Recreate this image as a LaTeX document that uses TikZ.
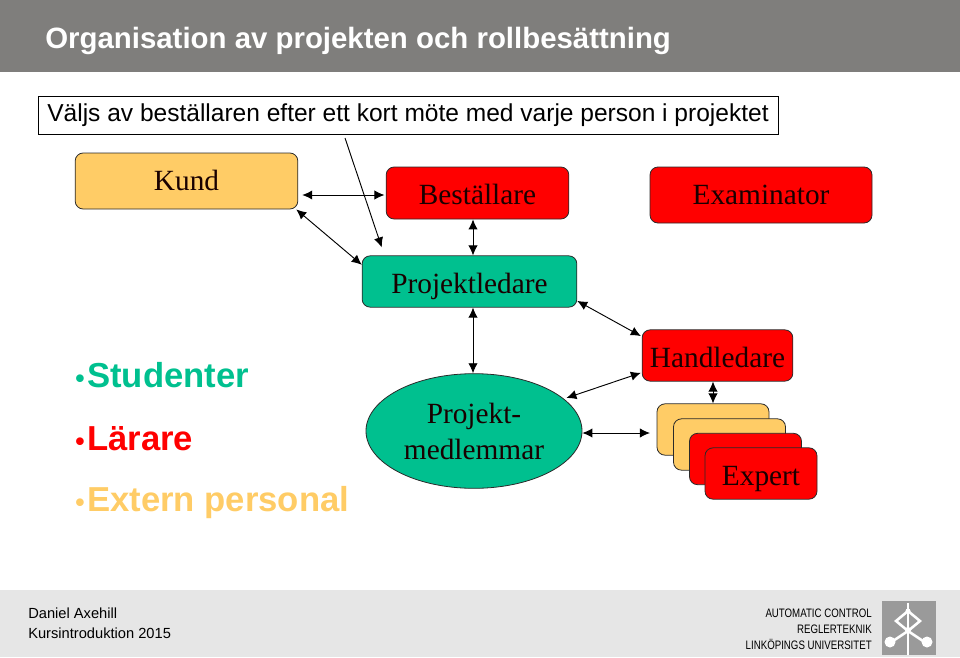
\documentclass[tikz,border=0pt]{standalone}
\usepackage{fontspec}
\setmainfont{Liberation Serif}
\newfontfamily\arialfont{Liberation Sans}
\newfontfamily\narrowfont[FakeStretch=0.79]{Liberation Sans}
\usetikzlibrary{arrows.meta,shapes.geometric}

\definecolor{headgray}{HTML}{7F7E7C}
\definecolor{footgray}{HTML}{E6E6E6}
\definecolor{logogray}{HTML}{9A9A9A}
\definecolor{kundorange}{HTML}{FFCC66}
\definecolor{projgreen}{HTML}{00C08F}
\definecolor{roledge}{HTML}{2A2A2A}

\newcommand{\smallbul}{{\fontsize{20}{20}\selectfont •}\kern2pt}

\begin{document}
\begin{tikzpicture}[
    x=0.75pt, y=-0.75pt,
    role/.style={rectangle, rounded corners=6pt, draw=roledge, line width=0.6pt,
                 inner sep=0pt, text height=18pt, text depth=0pt,
                 font=\fontsize{22}{26}\selectfont, text=black!90!red},
    darr/.style={{Latex[length=7.5pt,width=7pt]}-{Latex[length=7.5pt,width=7pt]}, line width=0.7pt},
    sarr/.style={-{Latex[length=7.5pt,width=7pt]}, line width=0.7pt},
    bullet/.style={anchor=base west, inner sep=0pt, font=\arialfont\bfseries\fontsize{26}{30}\selectfont},
    foot/.style={inner sep=0pt, font=\arialfont\fontsize{11}{13}\selectfont},
    logoline/.style={white, line width=1.9pt},
]
\useasboundingbox (0,0) rectangle (960,657);

% Header and footer bands
\fill[headgray] (0,0) rectangle (960,72);
\fill[footgray] (0,590) rectangle (960,657);

\node[anchor=west, inner sep=0pt, text=white, font=\arialfont\bfseries\fontsize{22.05}{26}\selectfont]
      (title) at (45,41) {Organisation av projekten och rollbesättning};

% Text box on top
\node[draw, line width=0.6pt, minimum width=555pt, minimum height=28.5pt, inner sep=0pt,
      text height=14pt, text depth=3.6pt,
      font=\arialfont\fontsize{18.4}{22}\selectfont] (valjs) at (408,115)
      {Väljs av beställaren efter ett kort möte med varje person i projektet};

% Top row
\node[role, fill=kundorange, minimum width=167pt, minimum height=42pt, text height=13.5pt] (kund) at (186.5,181) {Kund};
\node[role, fill=red, minimum width=137pt, minimum height=39pt, text height=16.5pt] (best) at (477.5,193) {Beställare};
\node[role, fill=red, minimum width=166.5pt, minimum height=42pt, text height=13.5pt] (exam) at (761,195) {Examinator};

% Middle
\node[role, fill=projgreen, minimum width=161pt, minimum height=38.5pt] (pled) at (469.5,281.5) {Projektledare};
\node[role, fill=red, minimum width=113pt, minimum height=38.5pt]       (hand) at (717.5,355.5) {Handledare};

% Stack of boxes
\node[role, fill=kundorange, minimum width=84pt, minimum height=38.5pt] (st1) at (713,429.5) {};
\node[role, fill=kundorange, minimum width=84pt, minimum height=38.5pt] (st2) at (729.5,444.5) {};
\node[role, fill=red, minimum width=84pt, minimum height=38.5pt]        (st3) at (745.5,459) {};
\node[role, fill=red, minimum width=84pt, minimum height=38.5pt]        (expert) at (761,473.5) {Expert};

\node[ellipse, draw=roledge, line width=0.6pt, fill=projgreen, minimum width=162pt, minimum height=86pt,
      inner sep=0pt, align=center, font=\fontsize{22}{27}\selectfont, text=black!90!red] (pmed) at (474,431) {Projekt-\\medlemmar};

% Bullet list
\node[bullet, text=projgreen] (stud) at (75,387) {\smallbul Studenter};
\node[bullet, text=red]       (lara) at (75,450) {\smallbul Lärare};
\node[bullet, text=kundorange] (extp) at (75,511) {\smallbul Extern personal};

% Arrows
\coordinate (cstart) at (345,138);
\draw[darr] ([xshift=3pt,yshift=-1.5pt]kund.east |- best.west) -- ([xshift=-1pt,yshift=-1.5pt]best.west);
\draw[darr] ([xshift=-1.5pt]kund.south east) -- ([yshift=-7pt]pled.north west);
\draw[sarr] (cstart) -- ([xshift=15pt,yshift=6pt]pled.north west);
\draw[darr] (best.south -| 473,0) -- (pled.north -| 473,0);
\draw[darr] (pled.south -| 473,0) -- (pmed.north -| 473,0);
\draw[darr] ([yshift=5pt]pled.south east) -- ([xshift=-0.7pt,yshift=14.6pt]hand.west);
\draw[darr] ([xshift=-12pt,yshift=24.75pt]pmed.east) -- ([xshift=-0.7pt,yshift=-13pt]hand.west);
\draw[darr] ([yshift=-1.5pt]pmed.east) -- ([xshift=-5pt,yshift=-1.5pt]pmed.east -| st1.west);
\draw[darr] (hand.south -| st1) -- (st1.north);

% Footer texts
\node[foot, anchor=west] (fname) at (28,613) {Daniel Axehill};
\node[foot, anchor=west] (fkurs) at (28,633) {Kursintroduktion 2015};
\node[anchor=east, inner sep=0pt, align=right, font=\narrowfont\fontsize{9.2}{12}\selectfont] (fliu) at (872,629.5)
      {AUTOMATIC CONTROL\\REGLERTEKNIK\\LINKÖPINGS UNIVERSITET};

% Logo
\fill[logogray] (882,601) rectangle (936,655);
\draw[logoline] (908,603) -- (908,655);
\draw[logoline] (896,621) -- (908,631) -- (920,621) -- (908,611) -- cycle;
\draw[logoline] (890,643) -- (908,631) -- (926,643);
\fill[white] (890,642) circle[radius=5.5];
\fill[white] (927,642) circle[radius=5.5];
\fill[white] (908,611) circle[radius=2.5];
\fill[white] (908,630) circle[radius=3];
\end{tikzpicture}
\end{document}
